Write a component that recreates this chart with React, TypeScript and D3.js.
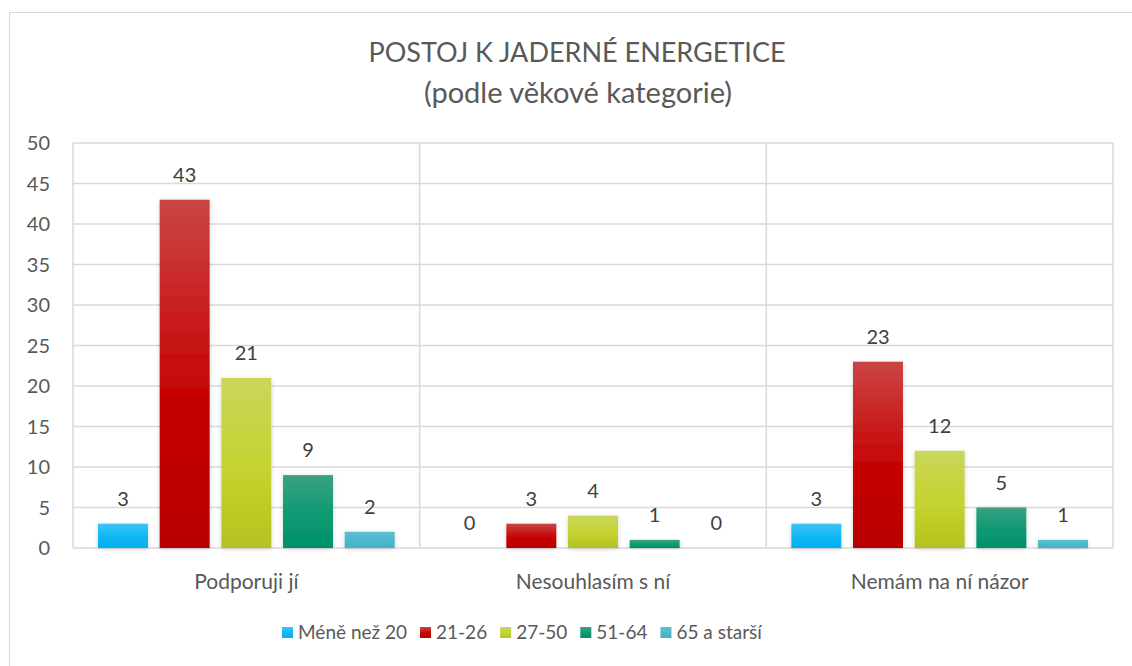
import React, { useEffect, useRef } from 'react';
import * as d3 from 'd3';

// data
const categories = ['Podporuji jí', 'Nesouhlasím s ní', 'Nemám na ní názor'];
const seriesNames = ['Méně než 20', '21-26', '27-50', '51-64', '65 a starší'];
const seriesValues = [
  [3, 0, 3],
  [43, 3, 23],
  [21, 4, 12],
  [9, 1, 5],
  [2, 0, 1],
];
const yTicks = [0, 5, 10, 15, 20, 25, 30, 35, 40, 45, 50];

// colours: [top, mid, bottom]
const colors = [
  ['#3dc3f7', '#0fb6f3', '#00b0f0'],
  ['#cb4444', '#c60505', '#b80000'],
  ['#c9d65a', '#c4d32f', '#b5c21f'],
  ['#3aa084', '#0d9a72', '#009169'],
  ['#5bbfd1', '#4bb8cb', '#45b1c4'],
];

const W = 1132;
const H = 666;
const FONT = 'Lato, "Open Sans", sans-serif';

const App = () => {
  const ref = useRef<SVGSVGElement>(null);

  useEffect(() => {
    const svg = d3.select(ref.current);
    svg.selectAll('*').remove();

    const left = 73, right = 1113, top = 143, bottom = 548;

    const defs = svg.append('defs');
    colors.forEach((c, i) => {
      const g = defs.append('linearGradient')
        .attr('id', 'grad' + i)
        .attr('x1', 0).attr('y1', 0).attr('x2', 0).attr('y2', 1);
      g.append('stop').attr('offset', '0%').attr('stop-color', c[0]);
      g.append('stop').attr('offset', '55%').attr('stop-color', c[1]);
      g.append('stop').attr('offset', '100%').attr('stop-color', c[2]);
    });
    const f = defs.append('filter').attr('id', 'shadow')
      .attr('x', '-20%').attr('y', '-20%').attr('width', '140%').attr('height', '140%');
    f.append('feDropShadow').attr('dx', 0).attr('dy', 1).attr('stdDeviation', 2)
      .attr('flood-color', '#000').attr('flood-opacity', 0.18);

    // chart border
    svg.append('rect')
      .attr('x', 9.5).attr('y', 12.5).attr('width', W).attr('height', H)
      .attr('fill', '#fff').attr('stroke', '#d9d9d9').attr('stroke-width', 1);

    // title
    const title = svg.append('text')
      .attr('text-anchor', 'middle')
      .attr('font-family', FONT).attr('fill', '#595959');
    title.append('tspan').attr('x', 577).attr('y', 62).attr('font-size', 27)
      .text('POSTOJ K JADERNÉ ENERGETICE');
    title.append('tspan').attr('x', 578).attr('y', 103).attr('font-size', 29)
      .text('(podle věkové kategorie)');

    const x0 = d3.scaleBand<string>().domain(categories).range([left, right]);
    const x1 = d3.scaleBand<number>()
      .domain(d3.range(seriesNames.length))
      .range([25, x0.bandwidth() - 25])
      .paddingInner(0.19);
    const y = d3.scaleLinear().domain([0, 50]).range([bottom, top]);

    // gridlines
    svg.append('g').selectAll('line').data(yTicks).join('line')
      .attr('x1', left).attr('x2', right)
      .attr('y1', d => y(d)).attr('y2', d => y(d))
      .attr('stroke', '#d9d9d9').attr('stroke-width', 1.5);
    svg.append('g').selectAll('line').data(d3.range(categories.length + 1)).join('line')
      .attr('x1', i => left + i * x0.bandwidth()).attr('x2', i => left + i * x0.bandwidth())
      .attr('y1', top).attr('y2', bottom)
      .attr('stroke', '#d9d9d9').attr('stroke-width', 1.5);

    // y axis labels
    svg.append('g').selectAll('text').data(yTicks).join('text')
      .attr('x', 50).attr('y', d => y(d)).attr('dy', '0.35em')
      .attr('text-anchor', 'end')
      .attr('font-family', FONT).attr('font-size', 20).attr('fill', '#595959')
      .text(d => d);

    // bars
    seriesValues.forEach((vals, s) => {
      const g = svg.append('g');
      g.selectAll('rect').data(vals).join('rect')
        .attr('x', (d, i) => (x0(categories[i]) as number) + (x1(s) as number))
        .attr('y', d => y(d))
        .attr('width', x1.bandwidth())
        .attr('height', d => bottom - y(d))
        .attr('fill', `url(#grad${s})`)
        .attr('filter', 'url(#shadow)')
        .style('display', d => (d === 0 ? 'none' : null));
      g.selectAll('text').data(vals).join('text')
        .attr('x', (d, i) => (x0(categories[i]) as number) + (x1(s) as number) + x1.bandwidth() / 2)
        .attr('y', d => y(d) - 18)
        .attr('text-anchor', 'middle')
        .attr('font-family', FONT).attr('font-size', 20).attr('fill', '#404040')
        .text(d => d);
    });

    // category labels
    svg.append('g').selectAll('text').data(categories).join('text')
      .attr('x', d => (x0(d) as number) + x0.bandwidth() / 2)
      .attr('y', 589)
      .attr('text-anchor', 'middle')
      .attr('font-family', FONT).attr('font-size', 21).attr('fill', '#595959')
      .text(d => d);

    // legend
    const lg = svg.append('g');
    let cx = 282;
    seriesNames.forEach((name, i) => {
      lg.append('rect').attr('x', cx).attr('y', 627).attr('width', 11).attr('height', 11)
        .attr('fill', `url(#grad${i})`);
      const t = lg.append('text').attr('x', cx + 16).attr('y', 639)
        .attr('font-family', FONT).attr('font-size', 19).attr('fill', '#595959')
        .text(name);
      const w = (t.node() as SVGTextElement).getComputedTextLength();
      cx += 16 + w + 13;
    });
  }, []);

  return (
    <svg ref={ref} width={W} height={H} style={{ position: 'absolute', left: 0, top: 0 }} />
  );
};

export default App;
